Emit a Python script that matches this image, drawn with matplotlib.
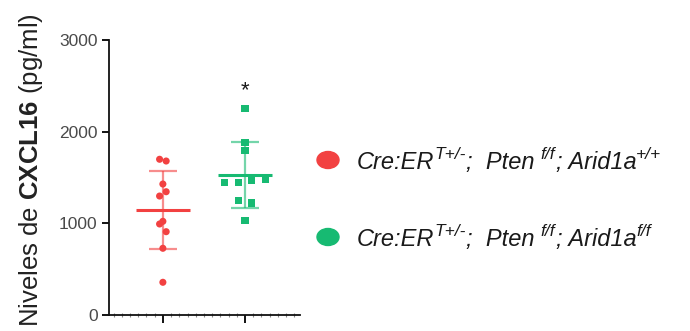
import numpy as np
import matplotlib
matplotlib.use("Agg")
import matplotlib.pyplot as plt
from matplotlib.patches import Ellipse
from matplotlib.ticker import MultipleLocator

plt.rcParams['font.family'] = ['Liberation Sans', 'DejaVu Sans']
plt.rcParams['mathtext.fontset'] = 'custom'
plt.rcParams['mathtext.rm'] = 'Liberation Sans'
plt.rcParams['mathtext.it'] = 'Liberation Sans:italic'
plt.rcParams['mathtext.bf'] = 'Liberation Sans:bold'
plt.rcParams['mathtext.sf'] = 'Liberation Sans'

# CXCL16 levels (pg/ml) per animal
wt_values = [1699, 1680, 1429, 1345, 1298, 1022, 993, 909, 728, 357]
ko_values = [2255, 1884, 1793, 1448, 1448, 1470, 1476, 1251, 1222, 1036]
# horizontal scatter offsets of the points within each column
wt_offsets = [-0.04, 0.04, 0.0, 0.04, -0.04, 0.0, -0.04, 0.04, 0.0, 0.0]
ko_offsets = [0.0, 0.0, 0.0, -0.25, -0.08, 0.08, 0.25, -0.08, 0.08, 0.0]

# genotype labels as (text, is_superscript) runs
group_labels = [
    [("Cre:ER", False), ("T+/-", True), (";  Pten ", False), ("f/f", True),
     ("; Arid1a", False), ("+/+", True)],
    [("Cre:ER", False), ("T+/-", True), (";  Pten ", False), ("f/f", True),
     ("; Arid1a", False), ("f/f", True)],
]
significance = "*"
yticks = [0, 1000, 2000, 3000]

red = '#F24141'
green = '#17BA72'

fig = plt.figure(figsize=(6.9, 3.31), dpi=100)
ax = fig.add_axes([0.1575, 0.0483, 0.2773, 0.8308])

groups = [(1, wt_values, wt_offsets, red, 'o'), (2, ko_values, ko_offsets, green, 's')]
for xpos, vals, offs, col, mk in groups:
    v = np.array(vals, dtype=float)
    m = v.mean()
    sd = v.std(ddof=1)
    # SD whisker with caps
    ax.plot([xpos, xpos], [m - sd, m + sd], color=col, lw=1.6, alpha=0.6, zorder=2,
            solid_capstyle='butt')
    for yy in (m - sd, m + sd):
        ax.plot([xpos - 0.167, xpos + 0.167], [yy, yy], color=col, lw=1.6, alpha=0.6,
                zorder=2, solid_capstyle='butt')
    ax.scatter(np.array(offs) + xpos, v, s=26, marker=mk, color=col, edgecolors='none',
               zorder=3)
    # mean line
    ax.plot([xpos - 0.325, xpos + 0.325], [m, m], color=col, lw=2.2, zorder=4,
            solid_capstyle='butt')

ax.text(2, 2450, significance, ha='center', va='center', fontsize=16, color='#1a1a1a')

ax.set_xlim(0.34, 2.67)
ax.set_ylim(0, 3000)
ax.set_yticks(yticks)
ax.set_yticklabels([str(t) for t in yticks])
ax.set_xticks([1, 2])
ax.set_xticklabels([])
ax.xaxis.set_minor_locator(MultipleLocator(0.1))
ax.tick_params(axis='y', length=5, width=1.3, labelsize=12.5, labelcolor='#4a4a4a', pad=3)
ax.tick_params(axis='x', which='major', length=6, width=1.3, direction='out')
ax.tick_params(axis='x', which='minor', length=2.5, width=0.8, direction='inout',
               color='#888888')
for s in ('top', 'right'):
    ax.spines[s].set_visible(False)
for s in ('left', 'bottom'):
    ax.spines[s].set_linewidth(1.3)
    ax.spines[s].set_color('#111111')

fig.text(31 / 690, 1 - 170 / 331, r"Niveles de $\mathbf{CXCL16}$ (pg/ml)", rotation=90,
         ha='center', va='center', fontsize=18.5, color='#222222')

# legend
W, H = 690, 331
renderer = fig.canvas.get_renderer()
base_size = 17
sup_size = 12.5
for (yc, col, runs) in [(160, red, group_labels[0]), (237, green, group_labels[1])]:
    fig.add_artist(Ellipse((328 / W, 1 - yc / H), 22 / W, 17 / H, color=col,
                           transform=fig.transFigure))
    x = 357.0
    baseline = yc + 9  # pixel row of the text baseline
    for txt, sup in runs:
        size = sup_size if sup else base_size
        y = baseline - (9.5 if sup else 0)
        t = fig.text(x / W, 1 - y / H, txt, ha='left', va='baseline', fontsize=size,
                     style='italic', color='#1a1a1a')
        bb = t.get_window_extent(renderer)
        x += bb.width

fig.savefig('out.png', dpi=100)
